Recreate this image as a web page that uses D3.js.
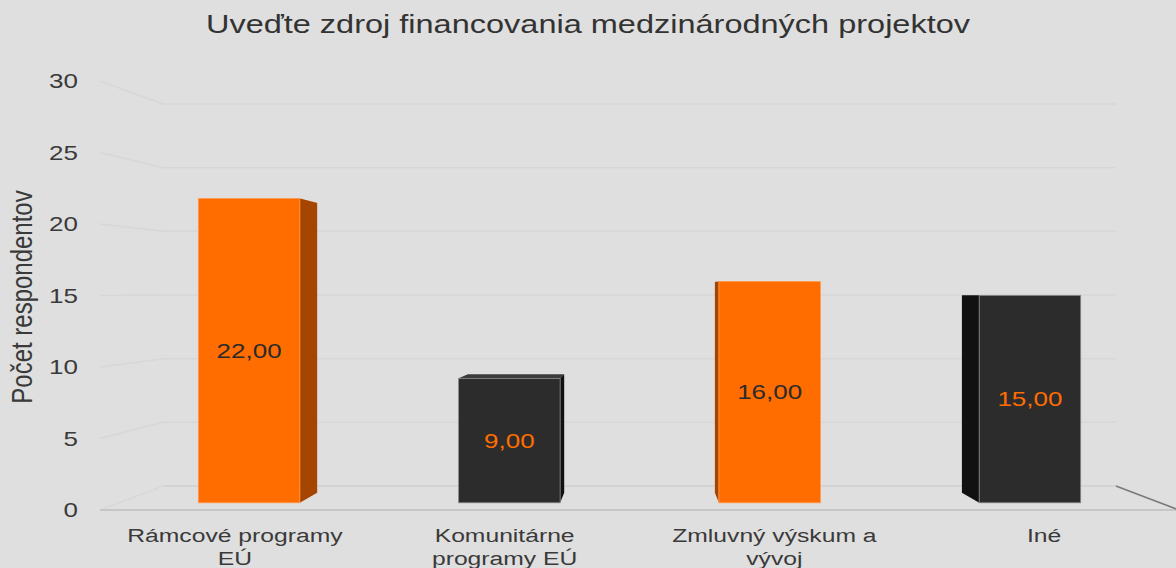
<!DOCTYPE html>
<html>
<head>
<meta charset="utf-8">
<script src="https://cdn.jsdelivr.net/npm/d3@7"></script>
<style>
  body { margin: 0; background: #dfdfdf; }
  svg { display: block; font-family: "Liberation Sans", Arial, sans-serif; }
</style>
</head>
<body>
<div id="chart"></div>
<script>
// data
const categories = [["Rámcové programy", "EÚ"], ["Komunitárne", "programy EÚ"], ["Zmluvný výskum a", "vývoj"], ["Iné"]];
const values = [22, 9, 16, 15];
const yTicks = [0, 5, 10, 15, 20, 25, 30];
const chartTitle = "Uveďte zdroj financovania medzinárodných projektov";
const yTitle = "Počet respondentov";

const W = 1176, H = 568;
const sx = 1.3; // the source picture is stretched sideways

let svg = d3.select('#chart').append('svg')
    .attr('width', W)
    .attr('height', H);

svg.append('rect').attr('width', W).attr('height', H).attr('fill', '#dfdfdf');

// front plane and back wall scales
let yF = d3.scaleLinear().domain([0, 30]).range([510, 81]);
let yB = d3.scaleLinear().domain([0, 30]).range([486, 104]);
let x = d3.scaleBand().domain(d3.range(categories.length)).range([100, 1179]);

// simple perspective: depth t goes 0 (front) -> 1 (back wall)
const vx = 640, shrink = 0.117;
function proj(X, v, t) {
    return [vx + (X - vx) * (1 - shrink * t), yF(v) + t * (yB(v) - yF(v))];
}

// text stretched sideways like in the picture
function stretchText(g, px, py, str, size, anchor, color) {
    return g.append('text')
        .attr('transform', 'translate(' + px + ',' + py + ') scale(' + sx + ',1)')
        .attr('text-anchor', anchor)
        .attr('font-size', size)
        .attr('fill', color)
        .text(str);
}

// * WALLS / GRID * //
let grid = svg.append('g');
let xl = x.range()[0], xr = x.range()[1];

yTicks.forEach(v => {
    let a = proj(xl, v, 0), b = proj(xl, v, 1), c = proj(xr, v, 1);
    if (v > 0) {
        grid.append('path')
            .attr('d', d3.line()([a, b, c]))
            .attr('fill', 'none')
            .attr('stroke', '#d7d7d7')
            .attr('stroke-width', 1.5);
    }
});

// floor
let f0 = proj(xl, 0, 0), f1 = proj(xl, 0, 1), f2 = proj(xr, 0, 1), f3 = proj(xr, 0, 0);
grid.append('line')
    .attr('x1', f1[0]).attr('y1', f1[1]).attr('x2', f2[0]).attr('y2', f2[1])
    .attr('stroke', '#cfcfcf').attr('stroke-width', 1.5);
grid.append('line')
    .attr('x1', f0[0]).attr('y1', f0[1]).attr('x2', f1[0]).attr('y2', f1[1])
    .attr('stroke', '#d4d4d4').attr('stroke-width', 1.5).attr('stroke-dasharray', '2,1');
grid.append('line')
    .attr('x1', f0[0]).attr('y1', f0[1]).attr('x2', W).attr('y2', f0[1])
    .attr('stroke', '#c6c6c6').attr('stroke-width', 2);
grid.append('line')
    .attr('x1', f2[0]).attr('y1', f2[1]).attr('x2', f3[0]).attr('y2', f3[1])
    .attr('stroke', '#7a7a7a').attr('stroke-width', 1.5);

// * BARS * //
const t0 = 0.3, t1 = 0.72;
const barFrac = 0.39;
let front = ['#ff6d00', '#2c2c2c'];
let side = ['#a64500', '#111111'];
let edge = ['#ff9a50', '#8a8a8a'];
let labelCol = ['#2a2a2a', '#ff6d00'];

let bars = svg.append('g');
values.forEach((v, i) => {
    let c = i % 2;
    let cx = x(i) + x.bandwidth() / 2;
    let X0 = cx - x.bandwidth() * barFrac / 2;
    let X1 = cx + x.bandwidth() * barFrac / 2;
    let sideX = cx < vx ? X1 : X0;

    // top face
    bars.append('path')
        .attr('d', d3.line()([proj(X0, v, t0), proj(X1, v, t0), proj(X1, v, t1), proj(X0, v, t1)]) + 'Z')
        .attr('fill', c == 0 ? '#ff8a33' : '#3a3a3a');
    // side face
    bars.append('path')
        .attr('d', d3.line()([proj(sideX, 0, t0), proj(sideX, 0, t1), proj(sideX, v, t1), proj(sideX, v, t0)]) + 'Z')
        .attr('fill', side[c]);
    // front face
    let p0 = proj(X0, v, t0), p1 = proj(X1, 0, t0);
    bars.append('rect')
        .attr('x', p0[0]).attr('y', p0[1])
        .attr('width', p1[0] - p0[0]).attr('height', p1[1] - p0[1])
        .attr('fill', front[c])
        .attr('stroke', edge[c]).attr('stroke-width', 0.8);

    let mid = proj(cx, v / 2, t0);
    stretchText(bars, mid[0], mid[1] + 7, d3.format('.2f')(v).replace('.', ','), 20, 'middle', labelCol[c]);
});

// * AXES TEXT * //
let ax = svg.append('g');
yTicks.forEach(v => {
    stretchText(ax, 78, yF(v) + 7, v, 20, 'end', '#3a3a3a');
});

categories.forEach((lines, i) => {
    let cx = x(i) + x.bandwidth() / 2;
    lines.forEach((s, j) => {
        stretchText(ax, cx, 542 + j * 23, s, 19, 'middle', '#3a3a3a');
    });
});

svg.append('text')
    .attr('transform', 'translate(32,297) rotate(-90) scale(1,1.2)')
    .attr('text-anchor', 'middle')
    .attr('font-size', 24)
    .attr('fill', '#3a3a3a')
    .text(yTitle);

stretchText(svg, 588, 33, chartTitle, 25, 'middle', '#333');
</script>
</body>
</html>
